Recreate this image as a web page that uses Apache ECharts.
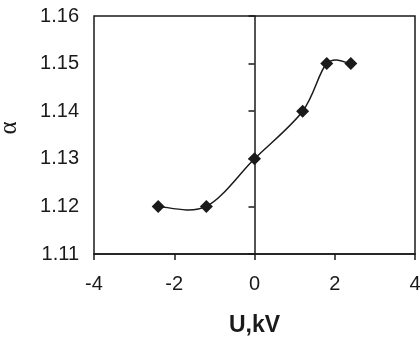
<!DOCTYPE html>
<html>
<head>
<meta charset="utf-8">
<script src="https://cdn.jsdelivr.net/npm/echarts@6/dist/echarts.min.js"></script>
<style>
  html, body { margin: 0; padding: 0; background: #fff; }
  #chart { width: 420px; height: 343px; }
</style>
</head>
<body>
<div id="chart"></div>
<script>
// data
var voltage = [-2.4, -1.2, 0, 1.2, 1.8, 2.4]
var alpha = [1.12, 1.12, 1.13, 1.14, 1.15, 1.15]
var xTicks = [-4, 4, 2]      // min, max, interval
var yTicks = [1.11, 1.16, 0.01]

window.onload = function () {
  var el = document.getElementById('chart')
  var chart = echarts.init(el)

  var points = voltage.map(function (v, i) { return [v, alpha[i]] })
  var ink = '#1a1a1a'
  var font = 'Liberation Sans, Arial, sans-serif'

  // spreadsheet style smoothed line: catmull-rom segments as bezier curves
  function renderCurve(params, api) {
    var i = params.dataIndex
    var n = points.length
    if (i >= n - 1) return null
    var p = function (k) {
      k = Math.max(0, Math.min(n - 1, k))
      return api.coord(points[k])
    }
    var p0 = p(i - 1), p1 = p(i), p2 = p(i + 1), p3 = p(i + 2)
    return {
      type: 'bezierCurve',
      shape: {
        x1: p1[0], y1: p1[1],
        x2: p2[0], y2: p2[1],
        cpx1: p1[0] + (p2[0] - p0[0]) / 6,
        cpy1: p1[1] + (p2[1] - p0[1]) / 6,
        cpx2: p2[0] - (p3[0] - p1[0]) / 6,
        cpy2: p2[1] - (p3[1] - p1[1]) / 6
      },
      style: { fill: null, stroke: ink, lineWidth: 1.5 },
      silent: true
    }
  }

  var option = {
    animation: false,
    grid: {
      left: 94, right: 5, top: 16, bottom: 89,
      outerBoundsMode: 'none',
      containLabel: false,
      show: true, borderColor: ink, borderWidth: 1.5
    },
    xAxis: {
      type: 'value',
      min: xTicks[0], max: xTicks[1], interval: xTicks[2],
      name: 'U,kV',
      nameLocation: 'middle',
      nameGap: 60,
      nameTextStyle: { fontFamily: font, fontSize: 23, fontWeight: 'bold', color: ink },
      axisLine: { onZero: false, lineStyle: { color: ink, width: 1.5 } },
      axisTick: { show: true, length: 6, lineStyle: { color: ink, width: 1.5 } },
      axisLabel: { fontFamily: font, fontSize: 20, color: ink, margin: 20 },
      splitLine: { show: false }
    },
    yAxis: [
      {
        // labels on the left edge
        type: 'value',
        position: 'left',
        min: yTicks[0], max: yTicks[1], interval: yTicks[2],
        name: 'α',
        nameLocation: 'middle',
        nameGap: 72,
        nameRotate: 90,
        nameTextStyle: { fontFamily: 'Liberation Serif, serif', fontSize: 25, color: ink, padding: [0, 0, 0, 14] },
        axisLine: { show: false, onZero: false },
        axisTick: { show: false },
        axisLabel: {
          fontFamily: font, fontSize: 20, color: ink, margin: 15,
          formatter: function (v) { return v.toFixed(2) }
        },
        splitLine: { show: false }
      },
      {
        // axis line crossing at U = 0
        type: 'value',
        position: 'left',
        min: yTicks[0], max: yTicks[1], interval: yTicks[2],
        axisLine: { show: true, onZero: true, lineStyle: { color: ink, width: 1.5 } },
        axisTick: { show: true, length: 6, lineStyle: { color: ink, width: 1.5 } },
        axisLabel: { show: false },
        splitLine: { show: false }
      }
    ],
    series: [
      {
        type: 'custom',
        data: points,
        renderItem: renderCurve,
        z: 1
      },
      {
        type: 'scatter',
        data: points,
        symbol: 'diamond',
        symbolSize: 13,
        itemStyle: { color: ink, opacity: 1 },
        z: 2
      }
    ]
  }

  chart.setOption(option)
}
</script>
</body>
</html>
